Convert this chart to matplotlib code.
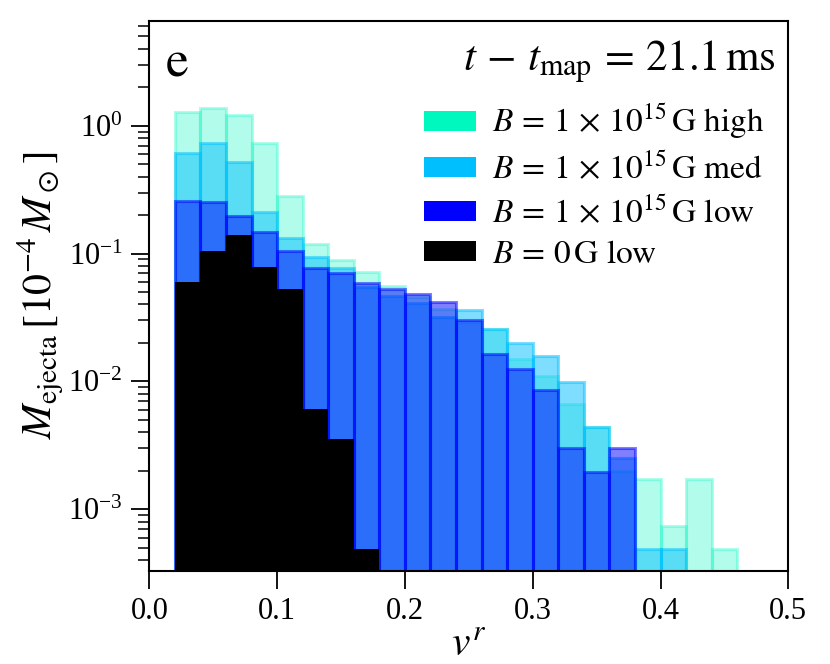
import numpy as np
import matplotlib
matplotlib.use("Agg")
import matplotlib.pyplot as plt
from matplotlib.patches import Patch

plt.rcParams['font.family'] = ['Liberation Serif', 'DejaVu Serif']
plt.rcParams['mathtext.fontset'] = 'stix'

# ---- data ----
bin_edges = [0.02, 0.04, 0.06, 0.08, 0.10, 0.12, 0.14, 0.16, 0.18, 0.20, 0.22, 0.24,
             0.26, 0.28, 0.30, 0.32, 0.34, 0.36, 0.38, 0.40, 0.42, 0.44, 0.46]
mass_high = [1.27, 1.37, 1.21, 0.733, 0.283, 0.119, 0.0885, 0.0713, 0.056, 0.046, 0.0366,
             0.029, 0.0255, 0.0149, 0.011, 0.0067, 0.0044, 0.0020, 0.00172, 0.00074, 0.00172, 0.00049]
mass_med = [0.608, 0.728, 0.523, 0.21, 0.132, 0.0944, 0.0766, 0.055, 0.0465, 0.041, 0.032,
            0.0361, 0.0255, 0.0198, 0.0158, 0.0098, 0.0044, 0.0025, 0.00049, 0.00049, 0.0, 0.0]
mass_low = [0.259, 0.251, 0.197, 0.147, 0.104, 0.0766, 0.0707, 0.059, 0.0525, 0.048, 0.042,
            0.0302, 0.0163, 0.0125, 0.0086, 0.0030, 0.00196, 0.0030, 0.0, 0.0, 0.0, 0.0]
mass_b0 = [0.0595, 0.105, 0.139, 0.0784, 0.0525, 0.00607, 0.00354, 0.00049, 0.0, 0.0, 0.0,
           0.0, 0.0, 0.0, 0.0, 0.0, 0.0, 0.0, 0.0, 0.0, 0.0, 0.0]

labels = [r'$B \,=\, 1 \,\times\, 10^{15}\,\mathrm{G\ high}$',
          r'$B \,=\, 1 \,\times\, 10^{15}\,\mathrm{G\ med}$',
          r'$B \,=\, 1 \,\times\, 10^{15}\,\mathrm{G\ low}$',
          r'$B \,=\, 0\,\mathrm{G\ low}$']
colors = ['#00F8BE', '#00BFFF', '#0000FF', '#000000']
alphas = [0.3, 0.5, 0.5, 1.0]
series = [mass_high, mass_med, mass_low, mass_b0]

fig = plt.figure(figsize=(8.3, 6.64), dpi=100)
ax = fig.add_axes([0.1799, 0.1405, 0.9498 - 0.1799, 0.9684 - 0.1405])

edges = np.array(bin_edges)
left = edges[:-1]
width = np.diff(edges)
for vals, c, a in zip(series, colors, alphas):
    v = np.array(vals)
    m = v > 0
    ax.bar(left[m], v[m], width=width[m], align='edge', color=c, alpha=a,
           edgecolor=c, linewidth=2.2 if a < 1 else 0)

ax.set_yscale('log')
ax.set_xlim(0.0, 0.5)
ax.set_ylim(3.3e-4, 6.6)
ax.set_xticks([0.0, 0.1, 0.2, 0.3, 0.4, 0.5])
ax.set_xticklabels(['0.0', '0.1', '0.2', '0.3', '0.4', '0.5'])

for s in ax.spines.values():
    s.set_linewidth(1.5)
ax.tick_params(axis='both', which='major', labelsize=22, length=13, width=1.3, pad=6)
ax.tick_params(axis='both', which='minor', length=8, width=1.1)
ax.tick_params(axis='x', which='minor', bottom=False)

ax.set_xlabel(r'$v^r$', fontsize=30, labelpad=0)
ax.set_ylabel(r'$M_{\mathrm{ejecta}}\,[10^{-4}\,M_\odot]$', fontsize=30, labelpad=2)

ax.text(0.025, 0.965, r'$\mathrm{e}$', transform=ax.transAxes, fontsize=37,
        ha='left', va='top')
ax.text(0.98, 0.968, r'$t \,-\, t_{\mathrm{map}} \,=\, 21.1\,\mathrm{ms}$', transform=ax.transAxes,
        fontsize=31, ha='right', va='top')

handles = [Patch(facecolor=c, edgecolor='none') for c in colors]
ax.legend(handles, labels, loc='upper right', bbox_to_anchor=(1.0, 0.895),
          frameon=False, fontsize=24, handlelength=1.55, handleheight=0.55,
          handletextpad=0.5, labelspacing=0.3, borderaxespad=0.3)

fig.savefig('out.png', dpi=100)
